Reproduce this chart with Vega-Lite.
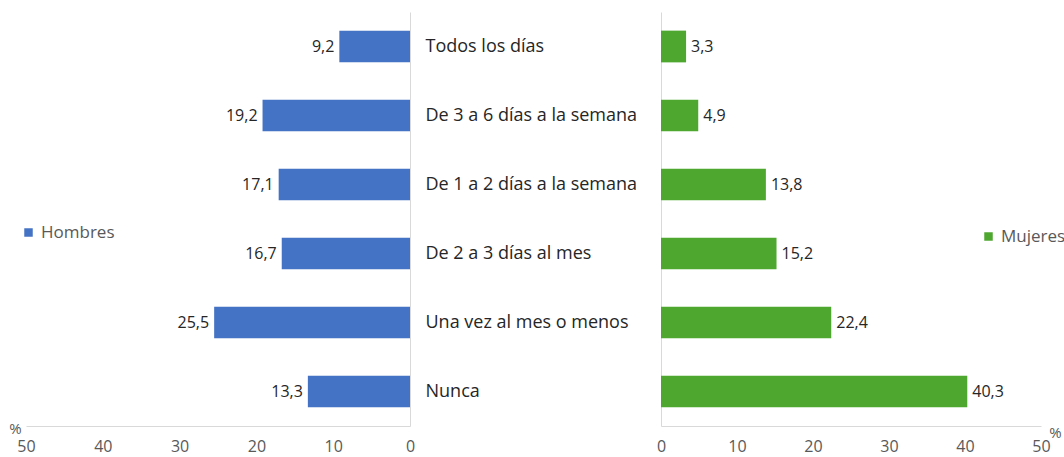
{
  "$schema": "https://vega.github.io/schema/vega-lite/v6.json",
  "padding": {"left": 8, "top": 12, "right": 0, "bottom": 0},
  "config": {
    "font": "Open Sans",
    "view": {"stroke": null},
    "locale": {"number": {"decimal": ",", "thousands": ".", "grouping": [3], "currency": ["", " €"]}},
    "axis": {"labelFont": "Open Sans", "titleFont": "Open Sans"}
  },
  "bounds": "flush",
  "spacing": 251,
  "data": {"values": [
    {"cat": "Todos los días", "sexo": "Hombres", "val": 9.2},
    {"cat": "De 3 a 6 días a la semana", "sexo": "Hombres", "val": 19.2},
    {"cat": "De 1 a 2 días a la semana", "sexo": "Hombres", "val": 17.1},
    {"cat": "De 2 a 3 días al mes", "sexo": "Hombres", "val": 16.7},
    {"cat": "Una vez al mes o menos", "sexo": "Hombres", "val": 25.5},
    {"cat": "Nunca", "sexo": "Hombres", "val": 13.3},
    {"cat": "Todos los días", "sexo": "Mujeres", "val": 3.3},
    {"cat": "De 3 a 6 días a la semana", "sexo": "Mujeres", "val": 4.9},
    {"cat": "De 1 a 2 días a la semana", "sexo": "Mujeres", "val": 13.8},
    {"cat": "De 2 a 3 días al mes", "sexo": "Mujeres", "val": 15.2},
    {"cat": "Una vez al mes o menos", "sexo": "Mujeres", "val": 22.4},
    {"cat": "Nunca", "sexo": "Mujeres", "val": 40.3}
  ]},
  "resolve": {"scale": {"color": "independent", "x": "independent"}},
  "hconcat": [
    {
      "width": 384,
      "height": 414,
      "transform": [{"filter": "datum.sexo == 'Hombres'"}],
      "encoding": {
        "y": {
          "field": "cat", "type": "nominal",
          "sort": ["Todos los días", "De 3 a 6 días a la semana", "De 1 a 2 días a la semana", "De 2 a 3 días al mes", "Una vez al mes o menos", "Nunca"],
          "scale": {"paddingInner": 0.54, "paddingOuter": 0.27},
          "axis": {"orient": "right", "labels": false, "ticks": false, "title": null, "domainColor": "#d9d9d9", "grid": false}
        },
        "x": {
          "field": "val", "type": "quantitative",
          "scale": {"domain": [0, 50], "reverse": true, "nice": false},
          "axis": {
            "values": [0, 10, 20, 30, 40, 50], "grid": false, "ticks": false, "labelFlush": false,
            "domainColor": "#d9d9d9", "labelColor": "#595959", "labelFontSize": 16, "labelPadding": 12,
            "title": "%", "titleFontWeight": "normal", "titleFontSize": 15, "titleColor": "#595959",
            "titleX": -11, "titleY": 7, "titleAngle": 0, "titleAlign": "center", "titleBaseline": "alphabetic"
          }
        }
      },
      "layer": [
        {
          "mark": {"type": "bar"},
          "encoding": {
            "color": {
              "field": "sexo", "type": "nominal",
              "scale": {"domain": ["Hombres"], "range": ["#4472C4"]},
              "legend": {
                "title": null, "orient": "none", "legendX": -6, "legendY": 212, "padding": 0,
                "symbolType": "square", "symbolSize": 72, "symbolStrokeWidth": 0,
                "labelFontSize": 17, "labelColor": "#595959", "labelFont": "Open Sans", "labelOffset": 4
              }
            }
          }
        },
        {
          "mark": {"type": "text", "align": "right", "baseline": "middle", "dx": -5, "fontSize": 16, "color": "#262626"},
          "encoding": {"text": {"field": "val", "type": "quantitative", "format": ".1f"}}
        }
      ]
    },
    {
      "width": 380,
      "height": 414,
      "transform": [{"filter": "datum.sexo == 'Mujeres'"}],
      "encoding": {
        "y": {
          "field": "cat", "type": "nominal",
          "sort": ["Todos los días", "De 3 a 6 días a la semana", "De 1 a 2 días a la semana", "De 2 a 3 días al mes", "Una vez al mes o menos", "Nunca"],
          "scale": {"paddingInner": 0.54, "paddingOuter": 0.27},
          "axis": {
            "orient": "left", "ticks": false, "title": null, "domainColor": "#d9d9d9", "grid": false,
            "labelAlign": "left", "labelPadding": 236, "labelFontSize": 18, "labelColor": "#262626", "labelLimit": 300
          }
        },
        "x": {
          "field": "val", "type": "quantitative",
          "scale": {"domain": [0, 50], "nice": false},
          "axis": {
            "values": [0, 10, 20, 30, 40, 50], "grid": false, "ticks": false, "labelFlush": false,
            "domainColor": "#d9d9d9", "labelColor": "#595959", "labelFontSize": 16, "labelPadding": 12,
            "title": "%", "titleFontWeight": "normal", "titleFontSize": 15, "titleColor": "#595959",
            "titleX": 394, "titleY": 11, "titleAngle": 0, "titleAlign": "center", "titleBaseline": "alphabetic"
          }
        }
      },
      "layer": [
        {
          "mark": {"type": "bar"},
          "encoding": {
            "color": {
              "field": "sexo", "type": "nominal",
              "scale": {"domain": ["Mujeres"], "range": ["#4EA72E"]},
              "legend": {
                "title": null, "orient": "none", "legendX": 319, "legendY": 216, "padding": 0,
                "symbolType": "square", "symbolSize": 72, "symbolStrokeWidth": 0,
                "labelFontSize": 17, "labelColor": "#595959", "labelFont": "Open Sans", "labelOffset": 4
              }
            }
          }
        },
        {
          "mark": {"type": "text", "align": "left", "baseline": "middle", "dx": 5, "fontSize": 16, "color": "#262626"},
          "encoding": {"text": {"field": "val", "type": "quantitative", "format": ".1f"}}
        }
      ]
    }
  ]
}
